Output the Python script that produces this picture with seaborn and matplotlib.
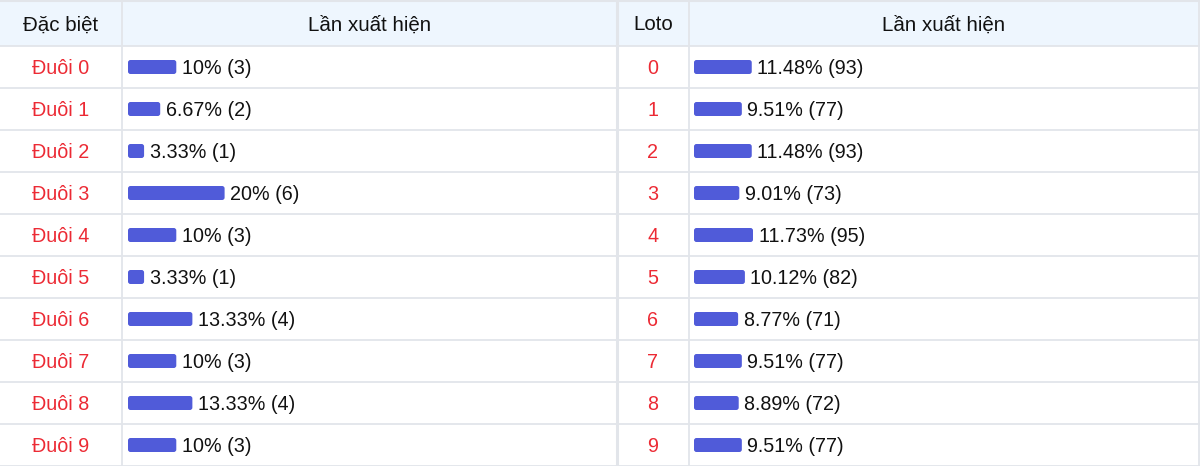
import matplotlib
matplotlib.use("Agg")
import matplotlib.pyplot as plt
import seaborn as sns
import pandas as pd
from matplotlib.patches import FancyBboxPatch

# Data
special_labels = ["Đuôi 0", "Đuôi 1", "Đuôi 2", "Đuôi 3", "Đuôi 4",
                  "Đuôi 5", "Đuôi 6", "Đuôi 7", "Đuôi 8", "Đuôi 9"]
special_pct = [10, 6.67, 3.33, 20, 10, 3.33, 13.33, 10, 13.33, 10]
special_count = [3, 2, 1, 6, 3, 1, 4, 3, 4, 3]

loto_labels = ["0", "1", "2", "3", "4", "5", "6", "7", "8", "9"]
loto_pct = [11.48, 9.51, 11.48, 9.01, 11.73, 10.12, 8.77, 9.51, 8.89, 9.51]
loto_count = [93, 77, 93, 73, 95, 82, 71, 77, 72, 77]

headers = ["Đặc biệt", "Lần xuất hiện", "Loto", "Lần xuất hiện"]

BAR = "#505bd9"
RED = "#ec2a34"
GRID = "#e2e5ea"
HEAD_BG = "#eef6fe"
FS = 14.2
FS_HEAD = 14.8

sns.set_theme(style="white")
plt.rcParams["font.family"] = ["Liberation Sans", "DejaVu Sans"]

W, H = 1200, 466
fig = plt.figure(figsize=(W / 100, H / 100), dpi=100)
fig.patch.set_facecolor("white")

# background / table grid in pixel coordinates
bg = fig.add_axes([0, 0, 1, 1])
bg.set_xlim(0, W)
bg.set_ylim(H, 0)
bg.axis("off")

top, head_h, row_h = 2, 44, 42
cols = [0, 122, 617, 689, 1199]
bg.add_patch(plt.Rectangle((0, top), W, head_h, color=HEAD_BG, lw=0))
bg.axhline(1, color=GRID, lw=1.5)
for i in range(len(special_labels) + 1):
    bg.axhline(top + head_h + i * row_h, color=GRID, lw=1.3)
for j, x in enumerate(cols[1:]):
    bg.axvline(x, color=GRID, lw=2.2 if x == 617 else 1.3)

for j, h in enumerate(headers):
    cx = (cols[j] + cols[j + 1]) / 2
    bg.text(cx, top + head_h / 2 - 1, h, ha="center", va="center_baseline",
            fontsize=FS_HEAD, color="#111111")

n = len(special_labels)
for i in range(n):
    cy = top + head_h + row_h * (i + 0.5) - 0.5
    bg.text((cols[0] + cols[1]) / 2, cy, special_labels[i], ha="center",
            va="center_baseline", fontsize=FS, color=RED)
    bg.text((cols[2] + cols[3]) / 2, cy, loto_labels[i], ha="center",
            va="center_baseline", fontsize=FS, color=RED)


def bar_column(x0, x1, px_per_pct, labels, pct, count):
    left = x0 / W
    width = (x1 - x0) / W
    y_top = top + head_h
    ax = fig.add_axes([left, 0, width, (H - y_top) / H])
    ax.patch.set_alpha(0)
    df = pd.DataFrame({"label": labels, "pct": pct})
    sns.barplot(data=df, x="pct", y="label", orient="h", color=BAR,
                width=14 / row_h, ax=ax, saturation=1)
    ax.set_xlim(0, (x1 - x0) / px_per_pct)
    ax.set_ylim(len(labels) - 0.5, -0.5)
    ax.axis("off")

    # rounded corners
    xu = 1 / px_per_pct
    yu = 1 / row_h
    for p in list(ax.patches):
        bx, by, bw, bh = p.get_x(), p.get_y(), p.get_width(), p.get_height()
        p.set_visible(False)
        ax.add_patch(FancyBboxPatch(
            (bx, by), bw, bh,
            boxstyle=f"round,pad=0,rounding_size={2.5 * xu}",
            mutation_aspect=yu / xu, facecolor=BAR, edgecolor="none"))

    for i, (p, c) in enumerate(zip(pct, count)):
        ax.annotate(f"{p:g}% ({c})", (p, i), xytext=(4.0, 0.5),
                    textcoords="offset points", ha="left",
                    va="center_baseline", fontsize=FS, color="#111111")
    return ax


bar_column(128, 617, 4.83, special_labels, special_pct, special_count)
bar_column(694, 1199, 5.03, loto_labels, loto_pct, loto_count)

fig.savefig("out.png", dpi=100)
